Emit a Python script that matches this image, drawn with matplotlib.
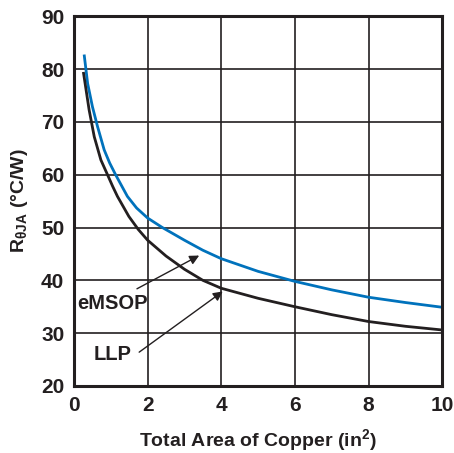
import matplotlib
matplotlib.use("Agg")
import matplotlib.pyplot as plt

# Data
emsop_x = [0.28, 0.37, 0.5, 0.64, 0.82, 0.97, 1.13, 1.45, 1.7, 2.0, 2.4, 3.0, 3.5, 4.0, 5.0, 6.0, 7.0, 8.0, 9.0, 10.0]
emsop_y = [82.5, 77.3, 72.9, 69.1, 64.7, 62.2, 60.0, 55.9, 53.7, 51.8, 50.0, 47.6, 45.7, 44.1, 41.7, 39.8, 38.2, 36.8, 35.8, 34.9]
llp_x = [0.26, 0.41, 0.55, 0.73, 0.91, 1.05, 1.18, 1.49, 1.75, 2.0, 2.5, 3.0, 3.5, 4.0, 5.0, 6.0, 7.0, 8.0, 9.0, 10.0]
llp_y = [79.2, 72.3, 67.2, 62.8, 60.0, 57.8, 55.9, 52.1, 49.6, 47.6, 44.6, 42.1, 40.0, 38.5, 36.6, 35.0, 33.5, 32.2, 31.3, 30.6]

xticks = [0, 2, 4, 6, 8, 10]
yticks = [20, 30, 40, 50, 60, 70, 80, 90]

INK = '#231f20'
plt.rcParams['font.family'] = ['Liberation Sans', 'DejaVu Sans']
plt.rcParams['font.weight'] = 'bold'
plt.rcParams['mathtext.fontset'] = 'custom'
plt.rcParams['mathtext.rm'] = 'Liberation Sans:bold'
plt.rcParams['mathtext.it'] = 'Liberation Sans:bold'
plt.rcParams['mathtext.bf'] = 'Liberation Sans:bold'

fig = plt.figure(figsize=(4.54, 4.53), dpi=100)
ax = fig.add_axes([0.163, 0.148, 0.811, 0.816])

ax.plot(emsop_x, emsop_y, color='#0072BC', lw=2.0)
ax.plot(llp_x, llp_y, color=INK, lw=2.0)

ax.set_xlim(0, 10)
ax.set_ylim(20, 90)
ax.set_xticks(xticks)
ax.set_yticks(yticks)
ax.tick_params(length=0, labelsize=15, pad=7, colors=INK)
ax.grid(True, color=INK, lw=1.2)
for sp in ax.spines.values():
    sp.set_linewidth(2.2)
    sp.set_color(INK)

ax.set_xlabel('Total Area of Copper (in$^2$)', fontsize=14, fontweight='bold',
              color=INK, labelpad=9)
ax.set_ylabel(r'R$_{\theta JA}$ (°C/W)', fontsize=14, fontweight='bold',
              color=INK, labelpad=8)

# callouts
arrow = dict(arrowstyle='-|>', color=INK, lw=1.0, shrinkA=0, shrinkB=0,
             mutation_scale=14)
ax.annotate('', xy=(3.4, 44.7), xytext=(1.71, 38.4), arrowprops=arrow)
ax.annotate('', xy=(4.04, 37.9), xytext=(1.77, 26.4), arrowprops=arrow)
ax.text(0.09, 35.7, 'eMSOP', fontsize=14.5, fontweight='bold', color=INK,
        ha='left', va='center')
ax.text(0.52, 25.9, 'LLP', fontsize=14.5, fontweight='bold', color=INK,
        ha='left', va='center')

fig.savefig('out.png', dpi=100)
